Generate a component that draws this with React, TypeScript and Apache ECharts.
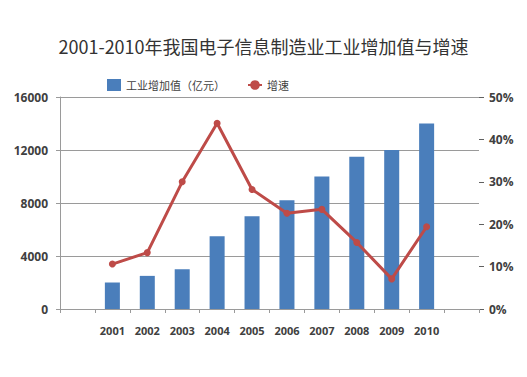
import React, { useEffect, useRef } from "react";
import * as echarts from "echarts";

const titleText = "2001-2010年我国电子信息制造业工业增加值与增速";
const categories = ["", "2001", "2002", "2003", "2004", "2005", "2006", "2007", "2008", "2009", "2010", ""];
const valueAdded = [null, 2000, 2500, 3000, 5500, 7000, 8200, 10000, 11500, 12000, 14000, null];
const growthRate = [null, 10.6, 13.3, 30.0, 43.8, 28.2, 22.6, 23.5, 15.7, 7.1, 19.4, null];
const barName = "工业增加值（亿元）";
const lineName = "增速";

export default function App() {
  const ref = useRef<HTMLDivElement>(null);
  useEffect(() => {
    if (!ref.current) return;
    const chart = echarts.init(ref.current, null, { renderer: "svg" });
    const font = "'Noto Sans CJK SC', 'Open Sans', sans-serif";
    chart.setOption({
      animation: false,
      backgroundColor: "#ffffff",
      title: {
        text: titleText,
        left: "center",
        top: 32,
        textStyle: { fontSize: 18, fontWeight: "normal", color: "#333333", fontFamily: font },
      },
      legend: {
        top: 74,
        left: 102,
        itemGap: 22,
        itemWidth: 14,
        itemHeight: 12,
        textStyle: { fontSize: 11, color: "#404040", fontFamily: font },
        data: [
          { name: barName, icon: "rect" },
          { name: lineName },
        ],
      },
      grid: { left: 60, right: 48, top: 97, bottom: 68, containLabel: false },
      xAxis: {
        type: "category",
        data: categories,
        boundaryGap: true,
        axisLine: { show: true, lineStyle: { color: "#9a9a9a", width: 1 } },
        axisTick: { show: true, alignWithLabel: false, length: 4, lineStyle: { color: "#9a9a9a" } },
        axisLabel: { fontSize: 11, fontWeight: "bold", color: "#404040", margin: 16, fontFamily: "'Open Sans', sans-serif" },
      },
      yAxis: [
        {
          type: "value",
          min: 0,
          max: 16000,
          interval: 4000,
          axisLine: { show: true, lineStyle: { color: "#9a9a9a" } },
          axisTick: { show: true, length: 4, lineStyle: { color: "#9a9a9a" } },
          splitLine: { show: true, lineStyle: { color: "#9a9a9a", width: 1 } },
          axisLabel: {
            fontSize: 12,
            fontWeight: "bold",
            color: "#404040",
            margin: 12,
            formatter: (v: number) => String(v),
            fontFamily: "'Open Sans', sans-serif",
          },
        },
        {
          type: "value",
          min: 0,
          max: 50,
          interval: 10,
          position: "right",
          axisLine: { show: false },
          axisTick: { show: true, inside: false, length: 5, lineStyle: { color: "#606060" } },
          splitLine: { show: false },
          axisLabel: {
            fontSize: 12,
            fontWeight: "bold",
            color: "#404040",
            margin: 10,
            formatter: "{value}%",
            fontFamily: "'Open Sans', sans-serif",
          },
        },
      ],
      series: [
        {
          name: barName,
          type: "bar",
          data: valueAdded,
          barWidth: "43%",
          itemStyle: { color: "#4a7ebb" },
          yAxisIndex: 0,
        },
        {
          name: lineName,
          type: "line",
          data: growthRate,
          yAxisIndex: 1,
          symbol: "circle",
          symbolSize: 7,
          lineStyle: { color: "#be4b48", width: 3 },
          itemStyle: { color: "#be4b48" },
        },
      ],
    });
    return () => chart.dispose();
  }, []);
  return <div ref={ref} style={{ width: 527, height: 377, position: "absolute", left: 0, top: 0 }} />;
}
